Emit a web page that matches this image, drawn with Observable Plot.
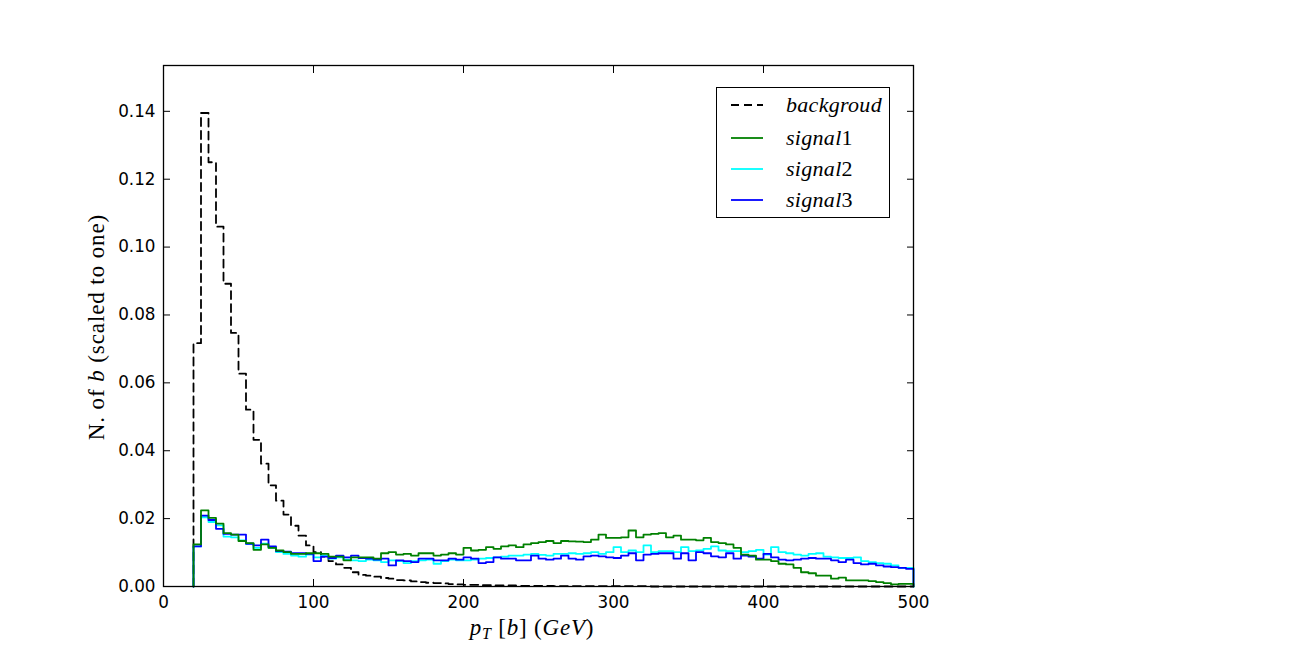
<!DOCTYPE html>
<html>
<head>
<meta charset="utf-8">
<script src="https://cdn.jsdelivr.net/npm/d3@7"></script>
<script src="https://cdn.jsdelivr.net/npm/@observablehq/plot@0.6"></script>
<style>
  html, body { margin: 0; padding: 0; background: white; }
  #wrap { position: relative; width: 1304px; height: 652px; }
  #legend {
    position: absolute; left: 716px; top: 87px; width: 172px; height: 129px;
    border: 1.3px solid black; background: white;
    font-family: "Liberation Serif", serif; font-style: italic; font-size: 22px; letter-spacing: 0.3px;
  }
  .item { position: absolute; left: 0; height: 30px; width: 172px; }
  .item svg { position: absolute; left: 14px; top: 0; }
  .item span { position: absolute; left: 69px; top: 2px; line-height: 26px; }
  .up { font-style: normal; }
</style>
</head>
<body>
<div id="wrap"></div>
<script>
// Bin starts (GeV), width 5, from 20 to 495; histogram ends at 500
const binStarts = d3.range(20, 500, 5);
const xEnd = 500;

const background = [
  0.0717, 0.1395, 0.1250, 0.1060, 0.0892, 0.0747, 0.0627, 0.0521, 0.0432, 0.0362,
  0.0298, 0.0253, 0.0212, 0.0179, 0.0150, 0.0121, 0.0101, 0.0088, 0.0075, 0.0065,
  0.0055, 0.0042, 0.0034, 0.0032, 0.0029, 0.0025, 0.0023, 0.0019, 0.0018, 0.0015,
  0.0013, 0.0011, 0.0010, 0.0009, 0.0007, 0.0006, 0.0005, 0.0005, 0.0004, 0.0004,
  0.0003, 0.0003, 0.0003, 0.0002, 0.0002, 0.0002, 0.0002, 0.0002, 0.0001, 0.0001,
  0.0001, 0.0001, 0.0001, 0.0001, 0.0001, 0.0001, 0.0001, 0.0001, 0.0001, 0.0001,
  0.0001, 0, 0, 0, 0, 0, 0, 0, 0, 0,
  0, 0, 0, 0, 0, 0, 0, 0, 0, 0,
  0, 0, 0, 0, 0, 0, 0, 0, 0, 0,
  0, 0, 0, 0, 0, 0
];

const signal1 = [
  0.0124, 0.0224, 0.0202, 0.0185, 0.0157, 0.0153, 0.0134, 0.0128, 0.0108, 0.0124,
  0.0114, 0.0106, 0.0101, 0.0096, 0.0096, 0.0098, 0.0098, 0.0096, 0.0088, 0.0088,
  0.0077, 0.0086, 0.0086, 0.0086, 0.0082, 0.0098, 0.0101, 0.0094, 0.0096, 0.0091,
  0.0098, 0.0098, 0.0091, 0.0094, 0.0098, 0.0094, 0.0114, 0.0106, 0.0108, 0.0116,
  0.0111, 0.0118, 0.0121, 0.0116, 0.0124, 0.0128, 0.0131, 0.0134, 0.0128, 0.0134,
  0.0133, 0.0132, 0.0131, 0.0138, 0.0153, 0.0143, 0.0143, 0.0145, 0.0165, 0.0145,
  0.0153, 0.0155, 0.0157, 0.0145, 0.0150, 0.0138, 0.0138, 0.0136, 0.0143, 0.0131,
  0.0128, 0.0124, 0.0114, 0.0094, 0.0091, 0.0079, 0.0079, 0.0075, 0.0067, 0.0065,
  0.0055, 0.0042, 0.0039, 0.0032, 0.0032, 0.0023, 0.0026, 0.0018, 0.0018, 0.0018,
  0.0016, 0.0013, 0.0010, 0.0006, 0.0008, 0.0008
];

const signal2 = [
  0.0118, 0.0204, 0.0190, 0.0180, 0.0147, 0.0145, 0.0136, 0.0126, 0.0114, 0.0126,
  0.0114, 0.0101, 0.0096, 0.0091, 0.0088, 0.0094, 0.0086, 0.0091, 0.0082, 0.0086,
  0.0079, 0.0077, 0.0075, 0.0079, 0.0077, 0.0072, 0.0077, 0.0075, 0.0069, 0.0075,
  0.0077, 0.0079, 0.0067, 0.0075, 0.0079, 0.0077, 0.0077, 0.0079, 0.0082, 0.0084,
  0.0086, 0.0088, 0.0091, 0.0091, 0.0094, 0.0096, 0.0093, 0.0091, 0.0096, 0.0096,
  0.0098, 0.0096, 0.0098, 0.0101, 0.0096, 0.0101, 0.0116, 0.0101, 0.0106, 0.0101,
  0.0121, 0.0101, 0.0104, 0.0104, 0.0101, 0.0116, 0.0104, 0.0106, 0.0111, 0.0118,
  0.0106, 0.0104, 0.0104, 0.0101, 0.0104, 0.0108, 0.0094, 0.0116, 0.0101, 0.0098,
  0.0094, 0.0091, 0.0096, 0.0098, 0.0088, 0.0086, 0.0084, 0.0084, 0.0086, 0.0075,
  0.0072, 0.0069, 0.0067, 0.0062, 0.0055, 0.0055
];

const signal3 = [
  0.0118, 0.0209, 0.0196, 0.0170, 0.0155, 0.0153, 0.0153, 0.0126, 0.0121, 0.0138,
  0.0118, 0.0104, 0.0103, 0.0098, 0.0098, 0.0096, 0.0075, 0.0088, 0.0084, 0.0091,
  0.0086, 0.0091, 0.0084, 0.0082, 0.0079, 0.0082, 0.0062, 0.0077, 0.0075, 0.0072,
  0.0082, 0.0082, 0.0077, 0.0077, 0.0082, 0.0079, 0.0086, 0.0082, 0.0069, 0.0072,
  0.0086, 0.0082, 0.0082, 0.0077, 0.0077, 0.0091, 0.0082, 0.0079, 0.0082, 0.0091,
  0.0082, 0.0079, 0.0089, 0.0091, 0.0089, 0.0086, 0.0084, 0.0091, 0.0098, 0.0077,
  0.0094, 0.0096, 0.0098, 0.0098, 0.0082, 0.0098, 0.0077, 0.0101, 0.0098, 0.0089,
  0.0086, 0.0098, 0.0082, 0.0091, 0.0088, 0.0082, 0.0096, 0.0086, 0.0079, 0.0077,
  0.0079, 0.0082, 0.0084, 0.0082, 0.0082, 0.0077, 0.0072, 0.0079, 0.0069, 0.0065,
  0.0067, 0.0062, 0.0059, 0.0057, 0.0055, 0.0052
];

const seriesNames = ["backgroud", "signal1", "signal2", "signal3"];
const seriesColors = ["black", "#008000", "#00ffff", "#0000ff"];
const xTicks = [0, 100, 200, 300, 400, 500];
const yTicks = [0, 0.02, 0.04, 0.06, 0.08, 0.10, 0.12, 0.14];

function stepPoints(vals) {
  const pts = [{x: binStarts[0], y: 0}];
  binStarts.forEach((b, i) => pts.push({x: b, y: vals[i]}));
  pts.push({x: xEnd, y: vals[vals.length - 1]});
  pts.push({x: xEnd, y: 0});
  return pts;
}

const lw = 1.8;
const chart = Plot.plot({
  width: 1304,
  height: 652,
  marginLeft: 163,
  marginRight: 391,
  marginTop: 65,
  marginBottom: 66,
  x: {domain: [0, 500]},
  y: {domain: [0, 0.1535]},
  style: {fontFamily: "DejaVu Sans", fontSize: "16.8px", color: "black", background: "white"},
  marks: [
    Plot.line(stepPoints(background), {x: "x", y: "y", curve: "step-after", stroke: seriesColors[0], strokeWidth: lw, strokeDasharray: "8,5"}),
    Plot.line(stepPoints(signal2), {x: "x", y: "y", curve: "step-after", stroke: seriesColors[2], strokeWidth: lw}),
    Plot.line(stepPoints(signal3), {x: "x", y: "y", curve: "step-after", stroke: seriesColors[3], strokeWidth: lw}),
    Plot.line(stepPoints(signal1), {x: "x", y: "y", curve: "step-after", stroke: seriesColors[1], strokeWidth: lw}),
    Plot.axisX({anchor: "bottom", ticks: xTicks, tickSize: -7, tickPadding: 17, label: null, tickFormat: d3.format("d")}),
    Plot.axisX({anchor: "top", ticks: xTicks, tickSize: -7, label: null, tickFormat: () => ""}),
    Plot.axisY({anchor: "left", ticks: yTicks, tickSize: -7, tickPadding: 15, label: null, tickFormat: d3.format(".2f")}),
    Plot.axisY({anchor: "right", ticks: yTicks, tickSize: -7, label: null, tickFormat: () => ""}),
    Plot.frame({stroke: "black", strokeWidth: 1.3})
  ]
});
document.getElementById("wrap").appendChild(chart);

// Axis titles with mixed italic (mathtext style)
const svg = d3.select(chart);
const serif = "'Liberation Serif', serif";
const xl = svg.append("text")
  .attr("x", 532).attr("y", 635)
  .attr("text-anchor", "middle")
  .attr("font-family", serif).attr("font-size", 23).attr("letter-spacing", 0.8).attr("fill", "black");
xl.append("tspan").attr("font-style", "italic").text("p");
xl.append("tspan").attr("font-style", "italic").attr("font-size", 16).attr("dy", 4).text("T");
xl.append("tspan").attr("dy", -4).text(" [");
xl.append("tspan").attr("font-style", "italic").text("b");
xl.append("tspan").text("] (");
xl.append("tspan").attr("font-style", "italic").text("GeV");
xl.append("tspan").text(")");

const yl = svg.append("text")
  .attr("transform", "translate(104,327) rotate(-90)")
  .attr("text-anchor", "middle")
  .attr("font-family", serif).attr("font-size", 23).attr("letter-spacing", 0.9).attr("fill", "black");
yl.append("tspan").text("N. of ");
yl.append("tspan").attr("font-style", "italic").text("b");
yl.append("tspan").text(" (scaled to one)");

// Legend
const legend = document.createElement("div");
legend.id = "legend";
const rowTops = [2, 35, 66, 97];
seriesNames.forEach((name, i) => {
  const item = document.createElement("div");
  item.className = "item";
  item.style.top = rowTops[i] + "px";
  const dash = i === 0 ? 'stroke-dasharray="8,5"' : "";
  item.innerHTML = `<svg width="34" height="30"><line x1="0" x2="32" y1="15" y2="15" stroke="${seriesColors[i]}" stroke-width="1.8" ${dash}/></svg>` +
    `<span>${name.replace(/(\d)$/, '<span class="up" style="position:static">$1</span>')}</span>`;
  legend.appendChild(item);
});
document.getElementById("wrap").appendChild(legend);
</script>
</body>
</html>
